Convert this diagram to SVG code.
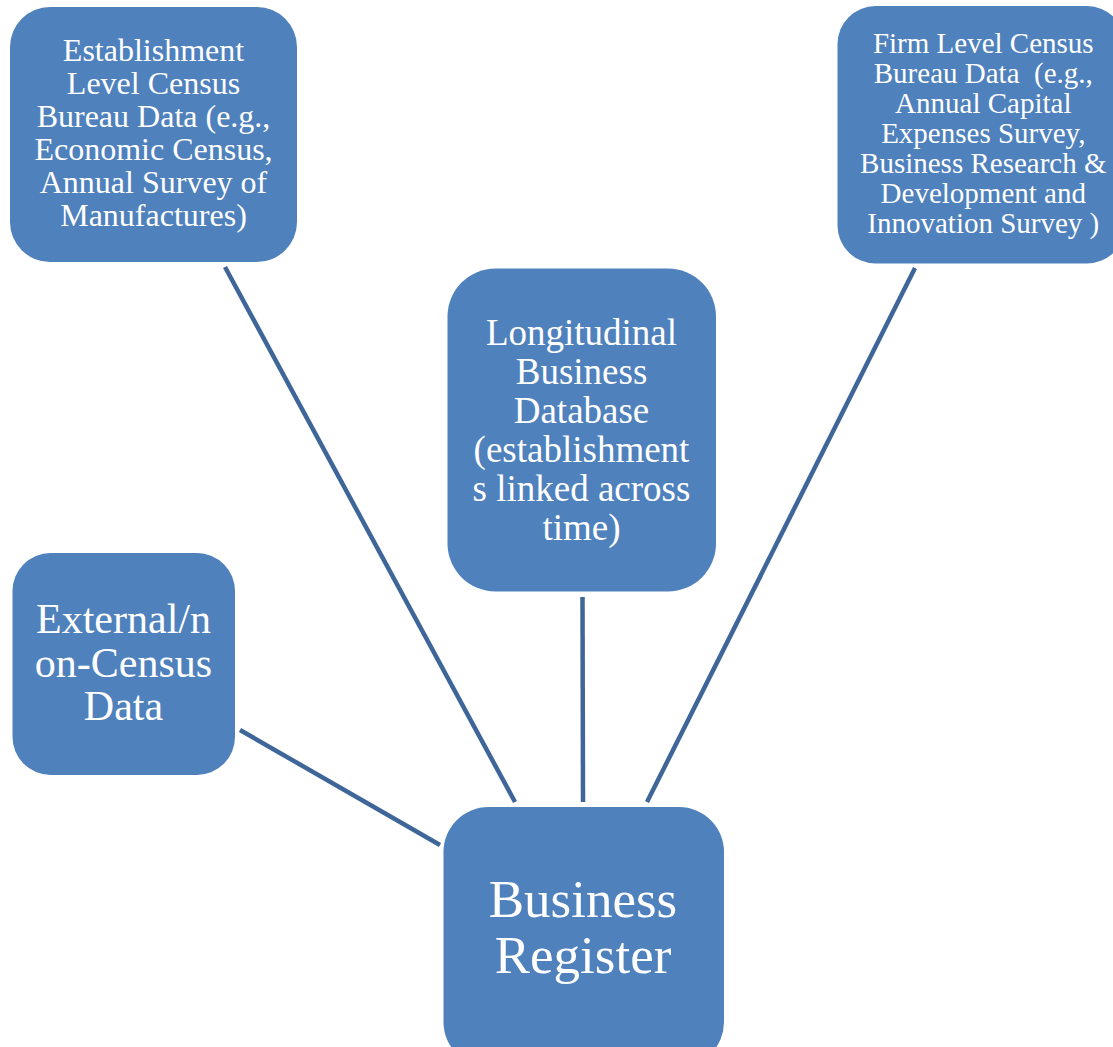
<svg xmlns="http://www.w3.org/2000/svg" width="1113" height="1047" viewBox="0 0 1113 1047">
<style>
.box{fill:#4f81bd;}
.t{font-family:"Liberation Serif","Times New Roman",serif;fill:#ffffff;text-anchor:middle;white-space:pre;}
.conn{stroke:#3e6699;stroke-width:4.5;fill:none;}
</style>
<rect width="1113" height="1047" fill="#ffffff"/>
<g id="connectors">
<line class="conn" x1="225" y1="267" x2="515" y2="802"/>
<line class="conn" x1="582.5" y1="597" x2="583" y2="802"/>
<line class="conn" x1="915" y1="268" x2="647" y2="802"/>
<line class="conn" x1="240" y1="730" x2="440" y2="845"/>
</g>
<g id="node-establishment">
<rect class="box" x="10" y="7" width="287" height="255" rx="40" ry="40"/>
<text class="t" font-size="32"><tspan x="153.5" y="61">Establishment</tspan><tspan x="153.5" y="94">Level Census</tspan><tspan x="153.5" y="127">Bureau Data (e.g.,</tspan><tspan x="153.5" y="160">Economic Census,</tspan><tspan x="153.5" y="193">Annual Survey of</tspan><tspan x="153.5" y="226">Manufactures)</tspan></text>
</g>
<g id="node-firm">
<rect class="box" x="837.5" y="6" width="287.5" height="257.5" rx="38" ry="38"/>
<text class="t" font-size="29"><tspan x="983.3" y="53.3">Firm Level Census</tspan><tspan x="983.3" y="83.3">Bureau Data  (e.g.,</tspan><tspan x="983.3" y="113.3">Annual Capital</tspan><tspan x="983.3" y="143.3">Expenses Survey,</tspan><tspan x="983.3" y="173.3">Business Research &amp;</tspan><tspan x="983.3" y="203.3">Development and</tspan><tspan x="983.3" y="233.3">Innovation Survey )</tspan></text>
</g>
<g id="node-lbd">
<rect class="box" x="447.5" y="268.5" width="268.5" height="323" rx="48" ry="48"/>
<text class="t" font-size="37"><tspan x="581.5" y="345">Longitudinal</tspan><tspan x="581.5" y="384">Business</tspan><tspan x="581.5" y="423">Database</tspan><tspan x="581.5" y="462">(establishment</tspan><tspan x="581.5" y="500.5">s linked across</tspan><tspan x="581.5" y="539.5">time)</tspan></text>
</g>
<g id="node-external">
<rect class="box" x="12.5" y="553" width="222.5" height="222" rx="38" ry="38"/>
<text class="t" font-size="42"><tspan x="123.5" y="633">External/n</tspan><tspan x="123.5" y="676.5">on-Census</tspan><tspan x="123.5" y="720">Data</tspan></text>
</g>
<g id="node-business-register">
<rect class="box" x="443.5" y="807" width="280.5" height="260" rx="45" ry="45"/>
<text class="t" font-size="53"><tspan x="583" y="917">Business</tspan><tspan x="583" y="973">Register</tspan></text>
</g>
</svg>
